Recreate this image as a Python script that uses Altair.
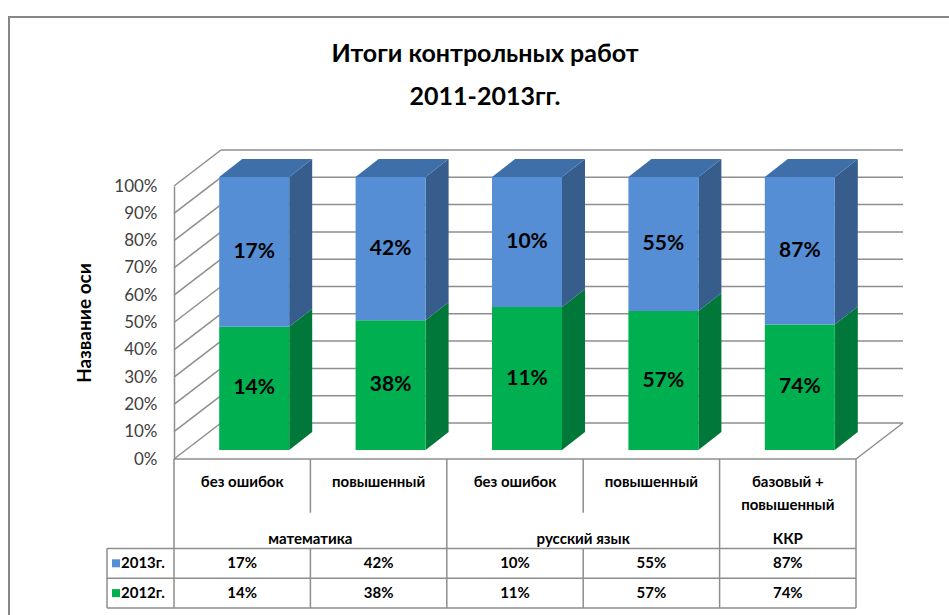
import altair as alt
import pandas as pd

# ---------------- data ----------------
categories = ["без ошибок", "повышенный", "без ошибок", "повышенный", "базовый +\nповышенный"]
group_names = ["математика", "русский язык", "ККР"]
group_sizes = [2, 2, 1]
series_names = ["2012г.", "2013г."]
values_2012 = [14, 38, 11, 57, 74]
values_2013 = [17, 42, 10, 55, 87]
table_rows = ["2013г.", "2012г."]
y_ticks = [0, 10, 20, 30, 40, 50, 60, 70, 80, 90, 100]

# ---------------- layout / style ----------------
W, H = 682, 273
PAD = {"left": 174, "top": 186, "right": 93, "bottom": 156}
N = len(categories)
XU = N / W          # x units per pixel
YU = 100 / H        # y units per pixel
FRONT_DX, FRONT_DY = 12, 9
BAR_DX, BAR_DY = 23, 18
WALL_DX, WALL_DY = 47, 36
BAR_W = 70 * XU
LEG_X = -67 * XU
ROW_PX = 29.8       # table row height in pixels


def T(u):
    """table row units (0 = top of table, growing downward) -> y units"""
    return -u * ROW_PX * YU


GREEN, BLUE = "#00B050", "#558ED5"
GREEN_SIDE, BLUE_SIDE = "#00783A", "#375D8C"
BLUE_TOP = "#3F6FA9"
LINE = "#8E8E8E"
FONT = "Lato, Open Sans, sans-serif"

xs = alt.Scale(domain=[0, N], nice=False, zero=False)
ys = alt.Scale(domain=[0, 100], nice=False, zero=False)
yaxis = alt.Axis(
    values=y_ticks, labelExpr="datum.value + '%'", ticks=False, grid=False,
    domain=True, domainColor=LINE, domainWidth=1.5,
    labelFont=FONT, labelFontSize=17, labelColor="#404040", labelPadding=17,
    title="Название оси", titleFont=FONT, titleFontSize=19, titleFontWeight="bold",
    titleColor="black", titlePadding=19)


def X(field):
    return alt.X(field, scale=xs, axis=None)


def Y(field, **kw):
    return alt.Y(field, scale=ys, axis=yaxis, **kw)


# ---------------- derived tables ----------------
front, side, top = [], [], []
off = FRONT_DY * YU
for i, (a, b) in enumerate(zip(values_2012, values_2013)):
    p = a / (a + b) * 100
    xl = i + 0.5 - BAR_W / 2 + FRONT_DX * XU
    xr = xl + BAR_W
    for s, y0, y1, v in [(series_names[0], 0, p, a), (series_names[1], p, 100, b)]:
        front.append(dict(series=s, xl=xl, xr=xr, y0=y0 + off, y1=y1 + off,
                          xm=(xl + xr) / 2, ym=(y0 + y1) / 2 + off, label=f"{v}%"))
        key = f"{i}-{s}"
        side.append(dict(key=key, series=s, x=xr, ya=y0 + off, yb=y1 + off))
        side.append(dict(key=key, series=s, x=xr + BAR_DX * XU,
                         ya=y0 + off + BAR_DY * YU, yb=y1 + off + BAR_DY * YU))
    top.append(dict(key=i, y=100 + off, xa=xl, xb=xr))
    top.append(dict(key=i, y=100 + off + BAR_DY * YU, xa=xl + BAR_DX * XU, xb=xr + BAR_DX * XU))
front_df, side_df, top_df = pd.DataFrame(front), pd.DataFrame(side), pd.DataFrame(top)

back_grid = pd.DataFrame(dict(y=[v + WALL_DY * YU for v in y_ticks],
                              x1=WALL_DX * XU, x2=N + WALL_DX * XU))
diag = pd.DataFrame(dict(x1=[0] * len(y_ticks) + [N],
                         x2=[WALL_DX * XU] * len(y_ticks) + [N + WALL_DX * XU],
                         y1=y_ticks + [0],
                         y2=[v + WALL_DY * YU for v in y_ticks] + [WALL_DY * YU]))

# table geometry
bounds = [0]
for g in group_sizes:
    bounds.append(bounds[-1] + g)
hl = pd.DataFrame(dict(y=[T(u) for u in [0, 3, 4, 5]],
                       x1=[0, LEG_X, LEG_X, LEG_X], x2=[N] * 4))
vl_rows = []
for k in range(N + 1):
    if k in bounds:
        vl_rows.append(dict(x=k, y1=T(0), y2=T(5)))
    else:
        vl_rows.append(dict(x=k, y1=T(0), y2=T(1.8)))
        vl_rows.append(dict(x=k, y1=T(3), y2=T(5)))
vl_rows.append(dict(x=LEG_X, y1=T(3), y2=T(5)))
vl_df = pd.DataFrame(vl_rows)

cat_df = pd.DataFrame(dict(x=[i + 0.5 for i in range(N)], y=T(0.55), text=categories))
grp_df = pd.DataFrame(dict(x=[(bounds[k] + bounds[k + 1]) / 2 for k in range(len(group_names))],
                           y=T(2.7), text=group_names))
val_rows = []
for r, name in enumerate(table_rows):
    vals = values_2013 if name == "2013г." else values_2012
    for i, v in enumerate(vals):
        val_rows.append(dict(x=i + 0.5, y=T(3.5 + r), text=f"{v}%"))
val_df = pd.DataFrame(val_rows)
leg_df = pd.DataFrame(dict(series=table_rows, y=[T(3.5), T(4.5)],
                           xs=LEG_X + 9 * XU, xt=LEG_X + 14 * XU))

# ---------------- layers ----------------
frame = alt.Chart(pd.DataFrame({"a": [0]})).mark_rect(
    fillOpacity=0, stroke="#878787", strokeWidth=2
).encode(x=alt.value(9 - PAD["left"]), x2=alt.value(W + 120),
         y=alt.value(17 - PAD["top"]), y2=alt.value(H + 200))

grid = alt.Chart(back_grid).mark_rule(color=LINE, strokeWidth=1.5).encode(
    x=X("x1:Q"), x2="x2:Q", y=Y("y:Q"))

diag_l = alt.Chart(diag).mark_rule(color=LINE, strokeWidth=1.5).encode(
    x=X("x1:Q"), x2="x2:Q", y=Y("y1:Q"), y2="y2:Q")

side_l = alt.Chart(side_df).mark_area(orient="vertical").encode(
    x=X("x:Q"), y=Y("ya:Q", stack=None), y2="yb:Q",
    detail="key:N",
    color=alt.Color("series:N", scale=alt.Scale(domain=series_names, range=[GREEN_SIDE, BLUE_SIDE]), legend=None))

top_l = alt.Chart(top_df).mark_area(orient="horizontal", color=BLUE_TOP).encode(
    y=Y("y:Q"), x=alt.X("xa:Q", scale=xs, axis=None, stack=None), x2="xb:Q",
    detail="key:N")

front_l = alt.Chart(front_df).mark_rect().encode(
    x=X("xl:Q"), x2="xr:Q", y=Y("y0:Q"), y2="y1:Q",
    color=alt.Color("series:N", scale=alt.Scale(domain=series_names, range=[GREEN, BLUE]), legend=None))

labels_l = alt.Chart(front_df).mark_text(font=FONT, fontSize=21, fontWeight="bold", color="black").encode(
    x=X("xm:Q"), y=Y("ym:Q"), text="label:N")

hl_l = alt.Chart(hl).mark_rule(color=LINE, strokeWidth=1.5).encode(
    x=X("x1:Q"), x2="x2:Q", y=Y("y:Q"))
vl_l = alt.Chart(vl_df).mark_rule(color=LINE, strokeWidth=1.5).encode(
    x=X("x:Q"), y=Y("y1:Q"), y2="y2:Q")
tf = dict(font=FONT, fontSize=15, fontWeight="bold", color="black")
cat_l = alt.Chart(cat_df).mark_text(baseline="top", lineBreak="\n", lineHeight=23, **tf).encode(
    x=X("x:Q"), y=Y("y:Q"), text="text:N")
grp_l = alt.Chart(grp_df).mark_text(**tf).encode(
    x=X("x:Q"), y=Y("y:Q"), text="text:N")
val_l = alt.Chart(val_df).mark_text(**tf).encode(
    x=X("x:Q"), y=Y("y:Q"), text="text:N")
sw_l = alt.Chart(leg_df).mark_square(size=64, opacity=1).encode(
    x=X("xs:Q"), y=Y("y:Q"),
    color=alt.Color("series:N", scale=alt.Scale(domain=series_names, range=[GREEN, BLUE]), legend=None))
lt_l = alt.Chart(leg_df).mark_text(align="left", **tf).encode(
    x=X("xt:Q"), y=Y("y:Q"), text="series:N")

chart = alt.layer(
    frame, grid, diag_l, side_l, top_l, front_l, labels_l,
    hl_l, vl_l, cat_l, grp_l, val_l, sw_l, lt_l
).resolve_scale(color="independent").properties(
    width=W, height=H,
    padding=PAD,
    autosize=alt.AutoSizeParams(type="none"),
    background="white",
    title=alt.TitleParams(
        text=["Итоги контрольных работ", "2011-2013гг."],
        font=FONT, fontSize=25, fontWeight="bold", color="black",
        anchor="middle", frame="group", lineHeight=43, dx=-30, dy=98),
).configure_view(stroke=None)

chart.save("out.html", embed_options={"renderer": "svg", "actions": False})
